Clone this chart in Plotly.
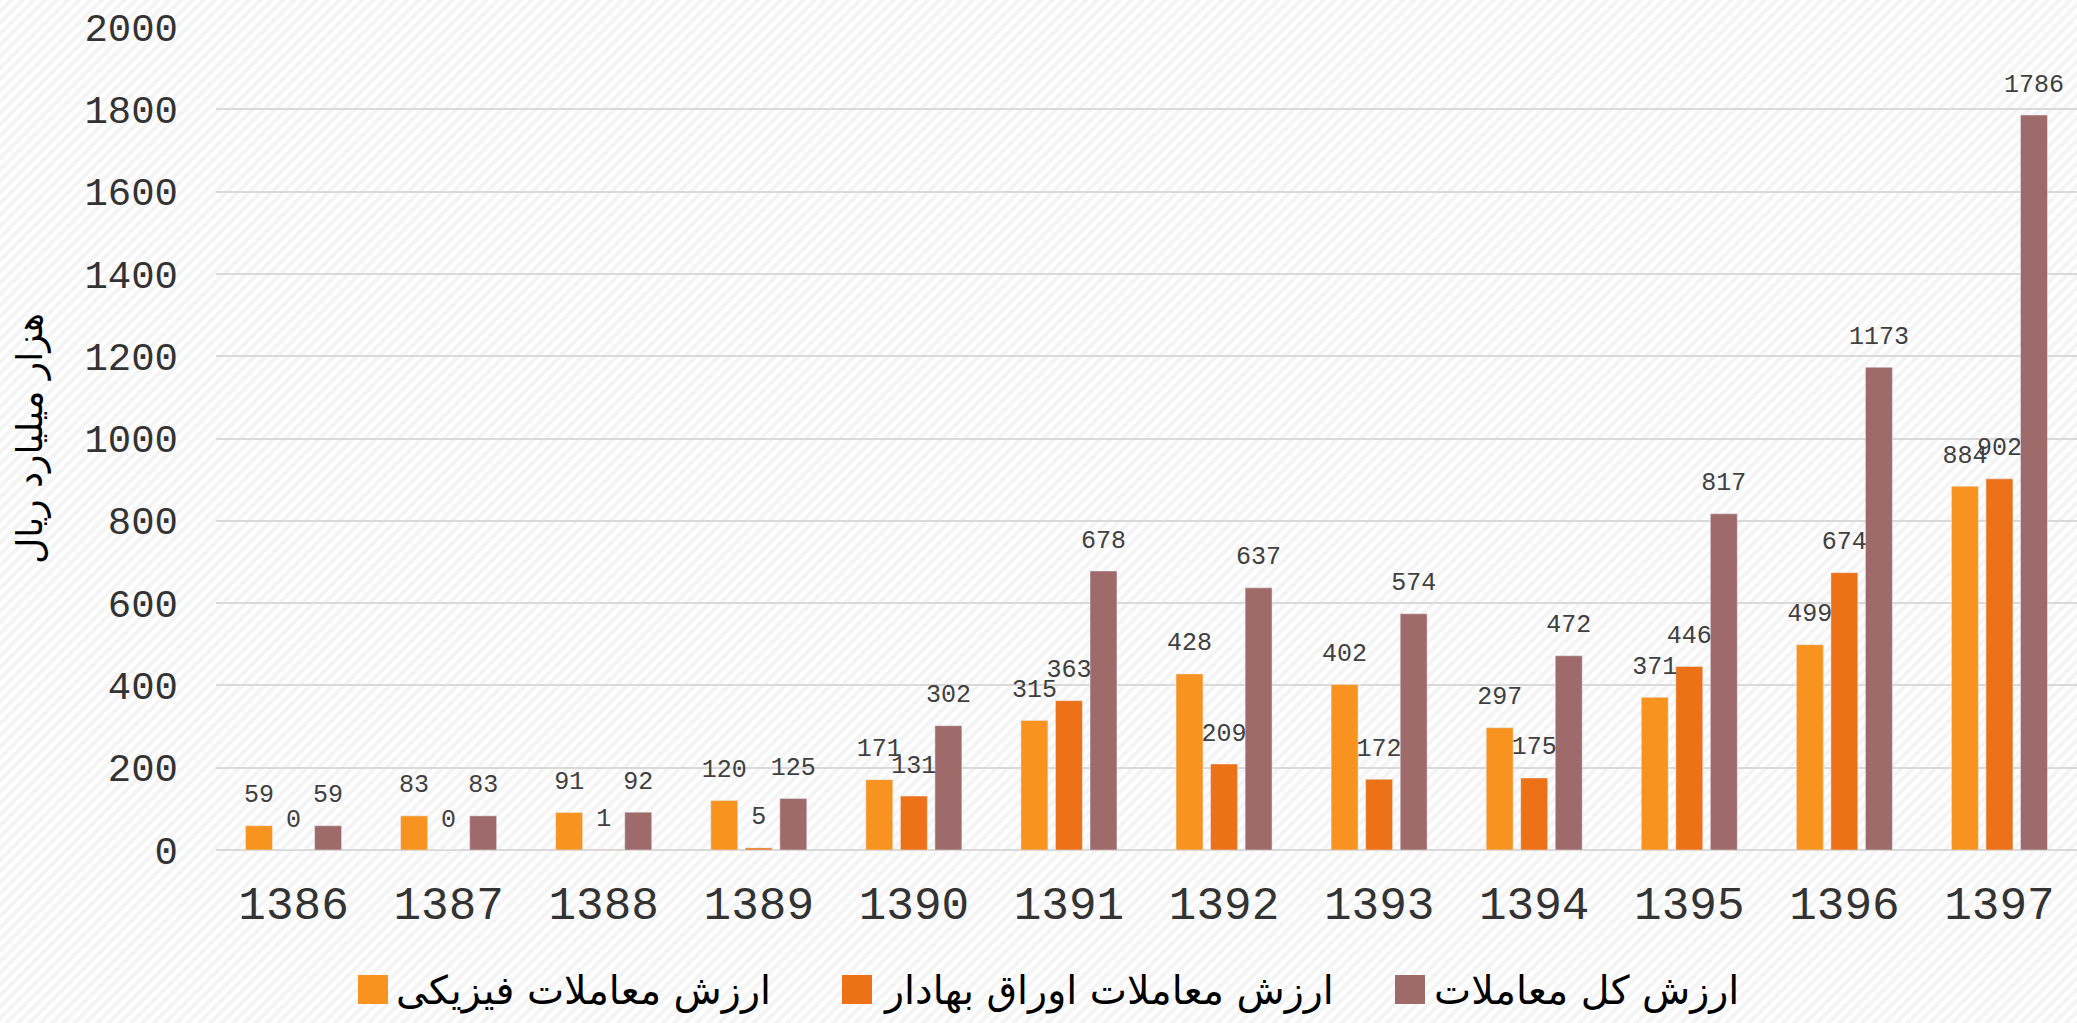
import plotly.graph_objects as go

# ---- data ----
years = ['1386', '1387', '1388', '1389', '1390', '1391', '1392', '1393', '1394', '1395', '1396', '1397']
physical = [59, 83, 91, 120, 171, 315, 428, 402, 297, 371, 499, 884]
securities = [0, 0, 1, 5, 131, 363, 209, 172, 175, 446, 674, 902]
total = [59, 83, 92, 125, 302, 678, 637, 574, 472, 817, 1173, 1786]
series_names = ['ارزش معاملات فیزیکی', 'ارزش معاملات اوراق بهادار', 'ارزش کل معاملات']
y_title = 'هزار میلیارد ریال'
colors = ['#F7931E', '#EC7117', '#9E6A6A']

W, H = 2077, 1023
plot_l, plot_t, plot_b = 216, 27, 850

fig = go.Figure()

# hatched background covering the whole page
fig.add_trace(go.Scatter(
    x=[0, 1, 1, 0, 0], y=[0, 0, 1, 1, 0], xaxis='x', yaxis='y',
    mode='lines', line=dict(width=0), fill='toself', fillcolor='white',
    fillpattern=dict(shape='/', size=8, solidity=0.5, fgcolor='#e9e9e9', bgcolor='white'),
    hoverinfo='skip', showlegend=False))

series = [physical, securities, total]
for i, (vals, name, col) in enumerate(zip(series, series_names, colors)):
    fig.add_trace(go.Bar(x=years, y=vals, name=name, marker=dict(color=col),
                         offsetgroup=str(i), alignmentgroup='g',
                         xaxis='x2', yaxis='y2', showlegend=False))

for i, (vals, name) in enumerate(zip(series, series_names)):
    fig.add_trace(go.Scatter(
        x=years, y=vals, mode='markers+text', text=[str(v) for v in vals],
        textposition='top center', offsetgroup=str(i), alignmentgroup='g', name=name,
        marker=dict(size=26, color='rgba(0,0,0,0)'),
        textfont=dict(family='Liberation Mono', size=25, color='#404040'),
        xaxis='x2', yaxis='y2', hoverinfo='skip', showlegend=False, cliponaxis=False))

# custom legend
leg_sq_x = [358, 842, 1395]
leg_txt_x = [394, 881, 1432]
for sx, tx, name, col in zip(leg_sq_x, leg_txt_x, series_names, colors):
    fig.add_shape(type='rect', xref='paper', yref='paper',
                  x0=sx / W, x1=(sx + 30) / W, y0=1 - 1004 / H, y1=1 - 975 / H,
                  fillcolor=col, line=dict(width=0))
    fig.add_annotation(xref='paper', yref='paper', x=tx / W, y=1 - 990 / H,
                       xanchor='left', yanchor='middle', text=name, showarrow=False,
                       font=dict(family='DejaVu Sans', size=39.5, color='black'))

fig.update_layout(
    width=W, height=H, margin=dict(l=0, r=0, t=0, b=0, autoexpand=False),
    paper_bgcolor='white', plot_bgcolor='rgba(0,0,0,0)',
    barmode='group', bargap=0.332, bargroupgap=0.22,
    scattermode='group', scattergap=0.332,
    showlegend=False,
    xaxis=dict(domain=[0, 1], range=[0, 1], visible=False, fixedrange=True, automargin=False),
    yaxis=dict(domain=[0, 1], range=[0, 1], visible=False, fixedrange=True, automargin=False),
    xaxis2=dict(domain=[plot_l / W, 1], anchor='y2', type='category', showgrid=False,
                showline=False, ticks='', ticklabelstandoff=22, automargin=False,
                tickfont=dict(family='Liberation Mono', size=46, color='#333333')),
    yaxis2=dict(domain=[1 - plot_b / H, 1 - plot_t / H], anchor='x2', range=[0, 2000], dtick=200,
                gridcolor='#d9d9d9', gridwidth=2, zeroline=True, zerolinecolor='#d9d9d9',
                zerolinewidth=2, showline=False, ticks='', ticklabelstandoff=37, automargin=False,
                tickfont=dict(family='Liberation Mono', size=39, color='#333333')),
)
fig.update_layout(yaxis2_title=dict(text=y_title, standoff=30,
                                    font=dict(family='DejaVu Sans', size=36, color='black')))

fig.write_html('out.html', config={'displayModeBar': False},
               post_script="document.body.style.margin='0';document.body.style.overflow='hidden';")
